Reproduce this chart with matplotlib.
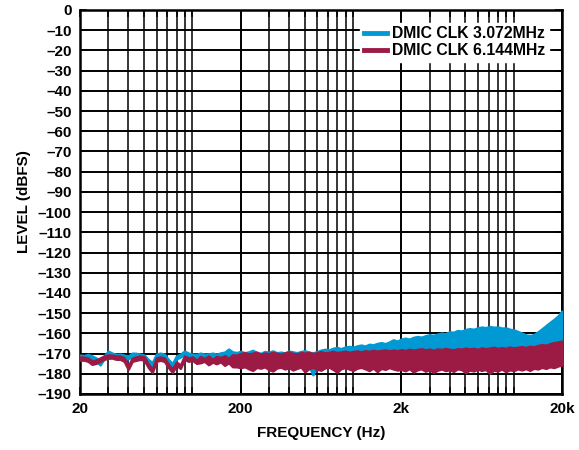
import numpy as np
import matplotlib
matplotlib.use("Agg")
import matplotlib.pyplot as plt
from matplotlib.ticker import FixedLocator, FixedFormatter, NullFormatter

plt.rcParams['font.family'] = ['Liberation Sans', 'DejaVu Sans']
plt.rcParams['font.weight'] = 'bold'

# frequency span of the sweep (Hz), 40 points per decade
f_start, f_stop, n_pts = 20, 20000, 121

# DMIC CLK 3.072MHz noise band (upper / lower edge, dBFS)
cyan_hi = [
    -170.8, -171.0, -170.4, -171.2, -172.2, -174.0, -171.2, -168.8, -169.8, -170.4,
    -170.3, -170.8, -171.2, -169.8, -169.9, -170.3, -170.8, -173.0, -174.5, -170.3,
    -169.8, -170.3, -173.0, -175.0, -171.2, -170.3, -168.8, -169.8, -170.3, -170.4,
    -169.8, -170.3, -170.2, -169.8, -170.3, -169.7, -169.3, -167.8, -169.2, -169.5,
    -168.9, -169.6, -169.2, -168.4, -169.5, -169.9, -169.0, -169.4, -168.7, -169.6,
    -169.3, -169.8, -168.8, -169.2, -169.6, -169.0, -168.6, -169.4, -169.7, -169.1,
    -168.3, -167.9, -168.2, -167.4, -167.0, -167.6, -166.8, -166.5, -166.9, -166.2,
    -165.8, -166.3, -165.4, -165.7, -165.0, -164.6, -165.1, -164.3, -163.2, -163.9,
    -162.8, -162.4, -162.9, -162.0, -161.6, -161.9, -161.2, -160.7, -161.0, -160.4,
    -159.9, -160.2, -159.2, -159.5, -158.6, -158.9, -158.1, -157.7, -158.0, -157.3,
    -156.9, -157.2, -156.6, -157.0, -156.8, -157.4, -157.3, -158.0, -158.3, -159.1,
    -159.9, -160.8, -161.1, -160.6, -159.3, -157.8, -156.2, -154.6, -153.1, -151.4,
    -149.0,
]
cyan_lo = [
    -172.2, -172.4, -171.8, -172.6, -173.6, -175.6, -172.6, -170.2, -171.2, -171.8,
    -171.7, -172.2, -172.6, -171.2, -171.3, -171.7, -172.2, -174.6, -176.2, -171.7,
    -171.2, -171.7, -174.6, -176.8, -172.6, -171.7, -170.2, -171.2, -171.7, -171.8,
    -171.2, -171.7, -171.6, -171.2, -171.7, -171.1, -171.5, -172.5, -173.5, -174.5,
    -176.0, -176.5, -175.5, -176.0, -175.0, -175.5, -176.0, -175.2, -175.8, -175.0,
    -175.5, -175.0, -175.6, -175.2, -175.8, -175.0, -175.5, -176.0, -180.5, -175.0,
    -174.5, -174.0, -174.5, -173.8, -174.0, -173.5, -173.8, -173.2, -173.5, -173.0,
    -173.0, -172.5, -172.8, -172.2, -172.5, -172.0, -172.2, -171.8, -172.0, -171.5,
    -171.5, -171.2, -171.5, -171.0, -171.3, -170.8, -171.0, -170.8, -171.0, -170.5,
    -170.8, -170.5, -170.6, -170.3, -170.5, -170.2, -170.4, -170.0, -170.2, -170.0,
    -170.0, -169.8, -170.0, -169.7, -169.8, -169.5, -169.7, -169.5, -169.6, -169.3,
    -169.4, -169.2, -169.3, -169.0, -168.8, -168.5, -168.0, -167.5, -167.0, -166.5,
    -166.0,
]

# DMIC CLK 6.144MHz noise band (upper / lower edge, dBFS)
red_hi = [
    -171.7, -171.8, -172.2, -173.7, -173.2, -172.2, -171.2, -170.7, -170.8, -171.2,
    -171.2, -172.2, -176.2, -172.2, -171.7, -171.2, -171.7, -175.2, -177.7, -172.2,
    -171.7, -172.2, -175.2, -177.7, -174.2, -175.7, -171.2, -172.2, -171.7, -173.2,
    -171.5, -172.5, -171.2, -172.8, -171.4, -172.0, -171.0, -172.4, -170.6, -170.8,
    -170.0, -169.5, -170.2, -169.8, -169.3, -170.4, -169.7, -170.1, -169.4, -169.9,
    -170.3, -169.6, -169.2, -169.9, -170.2, -169.5, -169.8, -169.3, -170.0, -169.6,
    -169.1, -169.7, -169.4, -168.9, -169.5, -169.2, -168.8, -169.4, -169.0, -168.7,
    -169.2, -168.6, -168.9, -168.4, -168.8, -168.5, -168.2, -168.7, -168.3, -168.6,
    -168.1, -168.5, -167.9, -168.3, -168.0, -167.6, -168.2, -167.8, -168.4, -167.7,
    -168.0, -167.5, -167.9, -168.2, -167.6, -167.8, -167.3, -167.7, -167.4, -167.9,
    -167.2, -167.6, -167.3, -166.9, -167.5, -167.1, -167.4, -166.8, -167.2, -166.9,
    -166.6, -167.0, -166.4, -166.7, -166.0, -165.6, -165.9, -165.1, -164.6, -164.3,
    -163.8,
]
red_lo = [
    -173.3, -173.2, -173.8, -175.3, -174.8, -173.8, -172.8, -172.3, -172.2, -172.8,
    -172.8, -173.8, -177.8, -173.8, -173.3, -172.8, -173.3, -176.8, -179.3, -173.8,
    -173.3, -173.8, -176.8, -179.3, -175.8, -177.3, -172.8, -173.8, -173.3, -174.8,
    -174.5, -173.8, -175.5, -174.2, -175.0, -174.0, -175.8, -174.5, -176.5, -176.5,
    -177.0, -176.4, -177.5, -178.3, -176.8, -177.2, -176.5, -177.9, -178.6, -177.1,
    -176.7, -177.6, -176.9, -178.1, -177.3, -176.6, -179.0, -177.4, -176.8, -177.7,
    -178.2, -177.0, -176.7, -177.8, -179.2, -177.4, -176.9, -177.6, -178.3, -177.2,
    -176.8, -177.5, -178.4, -177.1, -178.9, -177.3, -177.8, -176.9, -177.6, -178.1,
    -177.8, -178.5, -177.4, -179.1, -178.0, -177.5, -178.7, -177.9, -179.3, -178.2,
    -177.6, -178.4, -177.9, -178.8, -177.5, -177.9, -179.4, -178.1, -178.6, -177.7,
    -178.3, -177.8, -179.7, -178.2, -178.6, -177.6, -178.9, -178.0, -178.4, -177.5,
    -178.1, -177.4, -178.3, -177.2, -177.6, -176.8, -177.3, -176.5, -176.9, -176.1,
    -175.6,
]

labels = ['DMIC CLK 3.072MHz', 'DMIC CLK 6.144MHz']
colors = ['#0099d4', '#9b1b45']

major_freqs = [20, 200, 2000, 20000]
major_labels = ['20', '200', '2k', '20k']
minor_freqs = [m * d for d in (10, 100, 1000) for m in (3, 4, 5, 6, 7, 8, 9, 10)]
y_ticks = list(range(-190, 1, 10))

freq = np.geomspace(f_start, f_stop, n_pts)

fig = plt.figure(figsize=(5.79, 4.5), dpi=100)
ax = fig.add_axes([80 / 579, 1 - 394 / 450, 482 / 579, 384 / 450])

for hi, lo, c, lab in [(cyan_hi, cyan_lo, colors[0], labels[0]),
                       (red_hi, red_lo, colors[1], labels[1])]:
    ax.fill_between(freq, lo, hi, color=c, edgecolor=c, linewidth=1.8,
                    joinstyle='round', zorder=3)
    ax.plot([], [], color=c, lw=3.5, label=lab)

ax.set_xscale('log')
ax.set_xlim(f_start, f_stop)
ax.set_ylim(-190, 0)
ax.xaxis.set_major_locator(FixedLocator(major_freqs))
ax.xaxis.set_major_formatter(FixedFormatter(major_labels))
ax.xaxis.set_minor_locator(FixedLocator(minor_freqs))
ax.xaxis.set_minor_formatter(NullFormatter())
ax.set_yticks(y_ticks)
ax.set_yticklabels(['0' if v == 0 else '\u2013' + str(-v) for v in y_ticks])

ax.grid(True, which='major', color='black', linewidth=1.4, zorder=1)
ax.grid(True, which='minor', axis='x', color='black', linewidth=1.1, zorder=1)
ax.set_axisbelow(True)
ax.tick_params(which='both', direction='in', top=True, right=True,
               length=5, width=1.1, labelsize=11, pad=6)
for s in ax.spines.values():
    s.set_linewidth(1.8)

ax.set_xlabel('FREQUENCY (Hz)', fontsize=11, fontweight='bold', labelpad=7)
ax.set_ylabel('LEVEL (dBFS)', fontsize=11, fontweight='bold', labelpad=5)

leg = ax.legend(loc='upper right', frameon=True, fancybox=False, framealpha=1,
                edgecolor='white', fontsize=11.3, handlelength=1.45,
                handletextpad=0.35, borderpad=0.25, labelspacing=0.1,
                borderaxespad=0.8)
leg.set_zorder(5)
for t in leg.get_texts():
    t.set_fontweight('bold')

fig.savefig('out.png', dpi=100)
